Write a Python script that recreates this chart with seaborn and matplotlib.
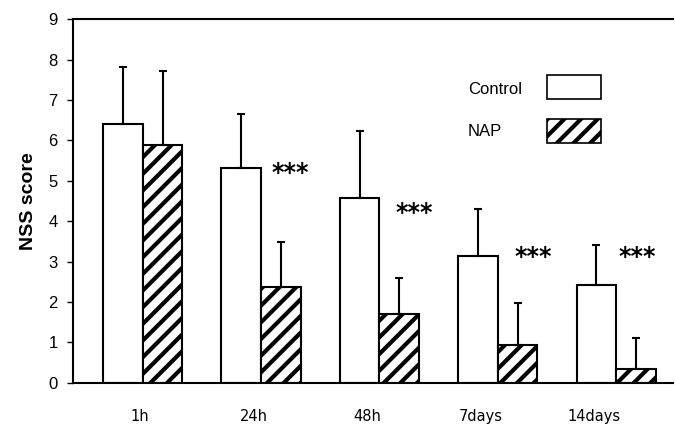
import matplotlib
matplotlib.use("Agg")
import matplotlib.pyplot as plt
import matplotlib.patches as mpatches
import numpy as np
import pandas as pd
import seaborn as sns

# ---- data ----
timepoints = ["1h", "24h", "48h", "7days", "14days"]
groups = ["Control", "NAP"]
control_mean = [6.41, 5.32, 4.57, 3.15, 2.42]
control_sd = [1.40, 1.32, 1.66, 1.14, 0.99]
nap_mean = [5.88, 2.36, 1.70, 0.94, 0.35]
nap_sd = [1.84, 1.12, 0.89, 1.03, 0.75]
sig_labels = ["", "***", "***", "***", "***"]
y_ticks = [0, 1, 2, 3, 4, 5, 6, 7, 8, 9]

df = pd.DataFrame({
    "time": timepoints * 2,
    "group": [groups[0]] * len(timepoints) + [groups[1]] * len(timepoints),
    "score": control_mean + nap_mean,
})

sns.set_style("white")
plt.rcParams["font.family"] = ["Liberation Sans", "DejaVu Sans"]
plt.rcParams["hatch.linewidth"] = 3.0
plt.rcParams["hatch.color"] = "black"
for k in ["text.color", "axes.labelcolor", "xtick.color", "ytick.color", "axes.edgecolor"]:
    plt.rcParams[k] = "black"

fig = plt.figure(figsize=(6.75, 4.24), dpi=100)
ax = fig.add_axes([0.108, 0.097, 0.889, 0.858])

sns.barplot(data=df, x="time", y="score", hue="group", order=timepoints,
            hue_order=groups, palette=["white", "white"], saturation=1,
            edgecolor="black", linewidth=1.5, width=0.67, errorbar=None,
            legend=False, ax=ax)

sds = [control_sd, nap_sd]
bar_containers = list(ax.containers)
for ci, cont in enumerate(bar_containers):
    xs = [p.get_x() + p.get_width() / 2 for p in cont.patches]
    ys = [p.get_height() for p in cont.patches]
    if ci == 1:
        for p in cont.patches:
            p.set_hatch("//")
    ax.errorbar(xs, ys, yerr=[np.zeros(len(ys)), sds[ci]], fmt="none",
                ecolor="black", elinewidth=1.5, capsize=3, capthick=1.5, zorder=1)

# significance stars
star_y = [0, 5.18, 4.21, 3.12, 3.12]
star_dx = [0, 0.25, 0.29, 0.30, 0.18]
for i, lab in enumerate(sig_labels):
    if lab:
        ax.text(i + star_dx[i], star_y[i], lab, ha="center", va="center",
                fontsize=17, fontweight="bold", family="DejaVu Sans")

ax.set_ylim(0, 9)
ax.set_xlim(-0.59, 4.48)
ax.set_yticks(y_ticks)
ax.set_yticklabels([str(t) for t in y_ticks], fontsize=12)
ax.set_xticks(np.arange(len(timepoints)) * 0.96 - 0.025)
ax.set_xticklabels(timepoints, fontsize=10.5, family="DejaVu Sans")
ax.tick_params(axis="y", direction="out", length=4, width=1, left=True, pad=7)
ax.tick_params(axis="x", length=0, pad=19)
ax.set_xlabel("")
ax.set_ylabel("NSS score", fontsize=14, fontweight="bold", labelpad=8)

for s in ["left", "bottom", "top"]:
    ax.spines[s].set_visible(True)
    ax.spines[s].set_linewidth(1.5)
    ax.spines[s].set_color("black")
ax.spines["right"].set_visible(False)

handles = [
    mpatches.Patch(facecolor="white", edgecolor="black", linewidth=1.2),
    mpatches.Patch(facecolor="white", edgecolor="black", linewidth=1.2, hatch="//"),
]
ax.legend(handles=handles, labels=["", ""], loc="upper left",
          bbox_to_anchor=(547 / 675, 1 - 75 / 424),
          bbox_transform=fig.transFigure, frameon=False,
          fontsize=12, handlelength=3.25, handleheight=1.85, handletextpad=0,
          labelspacing=1.2, borderpad=0, borderaxespad=0)
legend_text_y = [90, 132]
for lab, ypix in zip(groups, legend_text_y):
    fig.text(468 / 675, 1 - ypix / 424, lab, ha="left", va="center", fontsize=12)

fig.savefig("out.png", dpi=100)
